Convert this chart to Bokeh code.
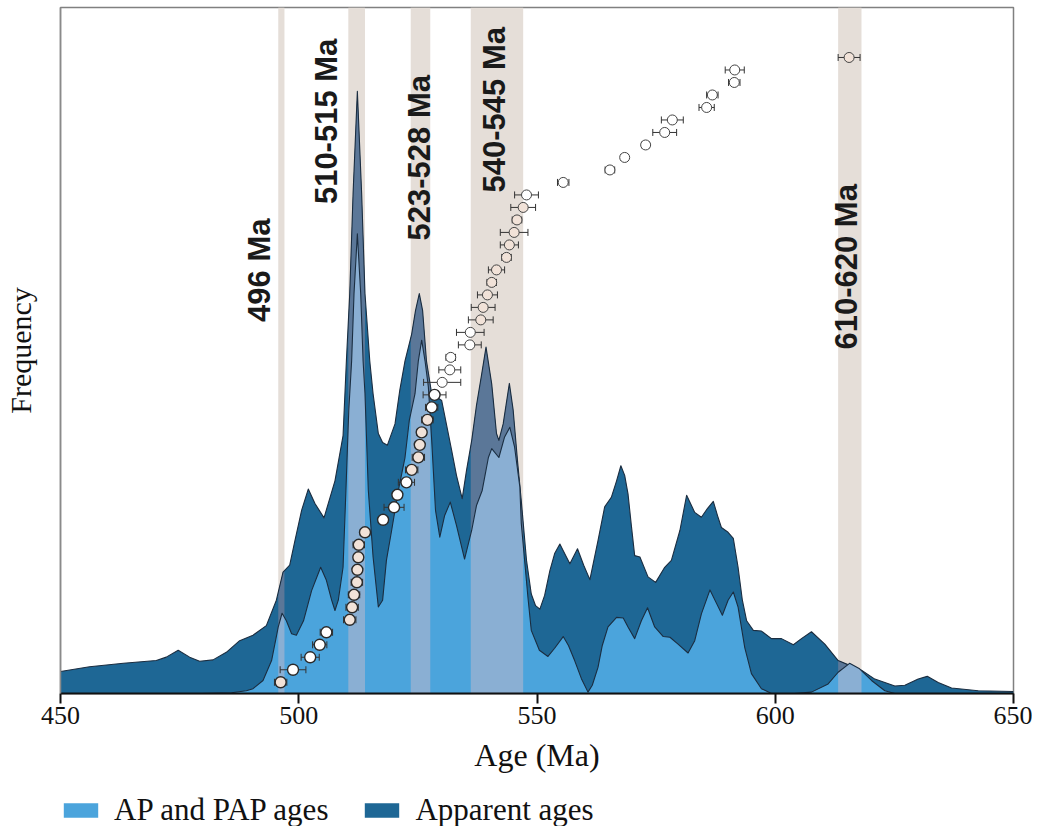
import numpy as np
from bokeh.plotting import figure
from bokeh.layouts import column
from bokeh.models import Range1d, FixedTicker, Legend, LegendItem, ColumnDataSource
from bokeh.core.properties import value
from bokeh.embed import file_html
from bokeh.resources import INLINE

# ---------------- data ----------------
dark_age = [450.0, 456.1, 463.2, 470.1, 472.2, 474.7, 477.1, 479.2, 482.0, 484.8,
            487.6, 490.4, 493.2, 495.3, 496.7, 498.1, 499.2, 500.6, 502.0, 503.4,
            505.3, 507.6, 509.3, 510.0, 510.7, 511.4, 512.3, 513.2, 513.9, 514.9,
            515.6, 516.7, 517.6, 518.6, 520.2, 521.2, 522.3, 523.7, 524.5, 525.3,
            526.0, 526.8, 527.9, 530.0, 532.1, 533.1, 534.3, 535.2, 536.3, 537.3,
            538.4, 539.3, 540.5, 541.5, 542.0, 542.9, 544.2, 545.0, 545.9, 546.7,
            547.8, 548.8, 549.7, 550.6, 551.6, 552.7, 553.7, 554.8, 555.8, 556.9,
            558.5, 559.8, 561.1, 562.8, 564.2, 565.6, 566.7, 567.6, 568.4, 569.1,
            569.8, 570.5, 571.6, 573.3, 574.9, 576.8, 578.2, 580.0, 581.4, 583.1,
            584.5, 585.8, 587.0, 587.9, 588.7, 590.1, 591.2, 592.2, 593.1, 594.0,
            595.4, 597.1, 599.2, 601.3, 603.8, 605.5, 607.6, 610.4, 613.2, 615.6,
            618.1, 620.9, 625.1, 627.2, 630.0, 631.9, 634.2, 637.0, 642.6, 650.0]
dark_freq = [3.2, 3.9, 4.4, 4.8, 5.3, 6.3, 5.3, 4.7, 4.9, 6.0,
             7.7, 8.5, 9.9, 13.6, 17.7, 18.7, 22.3, 26.7, 29.8, 27.7,
             25.6, 31.0, 37.6, 48.5, 58.3, 72.9, 87.8, 72.9, 58.3, 48.5,
             43.7, 37.9, 36.6, 36.2, 39.3, 44.2, 48.5, 52.4, 55.8, 58.3,
             55.8, 48.5, 43.7, 42.7, 35.4, 31.8, 28.4, 32.5, 36.9, 42.0,
             46.6, 50.5, 45.1, 37.9, 36.9, 39.3, 45.2, 41.3, 34.0, 28.1,
             19.4, 14.5, 12.8, 12.3, 14.3, 17.9, 20.4, 21.8, 20.4, 18.9,
             21.1, 18.7, 16.6, 22.3, 27.2, 28.6, 31.0, 33.2, 31.8, 29.1,
             24.5, 20.1, 19.9, 17.0, 16.2, 18.4, 19.4, 23.8, 28.9, 26.4,
             25.7, 27.0, 28.0, 25.9, 24.2, 23.5, 22.6, 18.4, 13.6, 10.6,
             9.2, 9.1, 8.0, 8.0, 7.1, 8.0, 9.0, 7.2, 4.8, 4.1,
             3.4, 2.1, 1.1, 1.2, 2.1, 2.5, 1.6, 0.8, 0.4, 0.3]

light_age = [450.0, 479.6, 485.9, 489.0, 490.4, 492.5, 494.3, 495.7, 496.5, 497.4,
             498.5, 499.5, 501.0, 502.7, 504.6, 505.8, 506.9, 507.6, 508.3, 509.3,
             509.9, 510.5, 511.1, 511.6, 512.3, 513.0, 513.5, 513.9, 514.6, 515.6,
             516.7, 517.6, 518.4, 519.5, 520.9, 522.3, 523.2, 524.4, 525.1, 525.8,
             526.5, 527.2, 527.9, 528.7, 529.6, 530.6, 531.8, 533.1, 534.8, 536.3,
             537.3, 538.5, 539.8, 540.5, 542.0, 543.2, 544.3, 545.3, 546.4, 546.7,
             548.1, 548.8, 550.5, 552.3, 553.7, 555.5, 556.6, 557.9, 559.3, 560.7,
             561.6, 562.8, 563.7, 564.9, 566.7, 568.1, 569.1, 570.5, 571.9, 573.2,
             574.7, 576.5, 577.9, 579.6, 581.7, 583.1, 584.5, 586.3, 587.7, 588.9,
             590.1, 591.2, 592.2, 593.6, 595.0, 597.1, 599.2, 604.0, 607.6, 611.1,
             613.2, 615.6, 617.7, 620.2, 623.0, 625.1, 650.0]
light_freq = [0.0, 0.0, 0.1, 0.4, 0.7, 1.9, 4.8, 9.7, 11.7, 10.6,
              8.7, 8.5, 10.6, 15.0, 18.4, 16.5, 13.6, 12.1, 13.6, 18.4,
              29.6, 41.3, 48.5, 58.3, 67.0, 58.3, 48.5, 43.7, 29.6, 19.9,
              12.6, 13.6, 19.4, 23.8, 29.6, 34.4, 39.8, 43.7, 48.5, 51.5,
              48.5, 44.7, 36.9, 26.7, 22.8, 25.9, 27.9, 24.5, 19.6, 23.8,
              27.4, 29.6, 34.4, 35.7, 34.4, 37.4, 38.8, 35.9, 30.1, 24.8,
              14.0, 9.2, 6.3, 5.4, 6.6, 8.3, 7.0, 4.8, 2.2, 0.2,
              1.2, 3.8, 7.0, 9.7, 11.1, 11.0, 9.7, 8.0, 10.6, 12.5,
              9.7, 8.3, 8.2, 7.2, 5.9, 7.7, 11.6, 15.1, 13.1, 11.4,
              13.6, 14.8, 12.6, 6.7, 2.9, 0.7, 0.0, 0.0, 0.2, 1.4,
              3.1, 4.4, 3.6, 1.9, 0.4, 0.0, 0.0]

band_lo = [495.7, 510.4, 523.5, 536.1, 613.2]
band_hi = [497.0, 513.9, 527.6, 547.1, 618.1]
band_labels = ["496 Ma", "510-515 Ma", "523-528 Ma", "540-545 Ma", "610-620 Ma"]

spot_age = [496.2, 498.8, 502.4, 504.4, 505.8, 510.7, 511.2, 511.6, 512.2, 512.3,
            512.5, 512.6, 513.9, 517.7, 520.0, 520.7, 522.6, 523.7, 525.1, 525.4,
            525.8, 527.0, 527.9, 528.5, 530.1, 531.7, 531.9, 535.9, 536.0, 538.2,
            538.7, 539.6, 540.5, 541.5, 543.6, 544.2, 545.2, 545.8, 547.1, 547.8,
            555.5, 565.3, 568.4, 572.8, 576.8, 578.4, 585.6, 586.8, 591.4, 591.5,
            615.5]
spot_err = [1.3, 2.7, 1.9, 1.5, 1.3, 1.3, 1.3, 1.2, 1.2, 0.9,
            0.9, 1.2, 1.0, 1.0, 2.1, 1.0, 1.7, 1.3, 1.3, 1.0,
            1.0, 1.2, 1.3, 2.4, 3.9, 2.3, 1.0, 2.4, 2.9, 2.6,
            2.5, 2.1, 1.0, 1.7, 1.0, 1.9, 2.9, 1.0, 2.6, 2.5,
            1.2, 1.0, 0.8, 0.8, 2.5, 2.3, 1.6, 1.2, 1.2, 2.0,
            2.3]
spot_rank = [1, 2, 3, 4, 5, 6, 7, 8, 9, 10, 11, 12, 13, 14, 15, 16, 17, 18, 19, 20,
             21, 22, 23, 24, 25, 26, 27, 28, 29, 30, 31, 32, 33, 34, 35, 36, 37, 38, 39, 40,
             41, 42, 43, 44, 45, 46, 47, 48, 49, 50, 51]

x_ticks = [450, 500, 550, 600, 650]
legend_labels = ["AP and PAP ages", "Apparent ages"]

# label anchor positions (x in Ma, centre y in frequency units)
label_x = [491.8, 505.8, 525.4, 541.1, 615.0]
label_y = [61.7, 83.4, 78.1, 85.1, 62.2]

# ---------------- styles ----------------
DARK = "#1e6795"
LIGHT = "#4ba4dc"
BAND = "#e5ded8"
BAND_DARK = "#5b7798"
BAND_LIGHT = "#8aafd3"
EDGE = "#1b2d40"
SERIF = "Liberation Serif"

p = figure(frame_width=953, frame_height=686, x_range=Range1d(450, 650), y_range=Range1d(0, 100),
           output_backend="svg", toolbar_location=None,
           min_border_left=59, min_border_right=19, min_border_top=7, min_border_bottom=93)
p.extra_y_ranges = {"rank": Range1d(0.1, 55.0)}
p.grid.visible = False
p.outline_line_color = "#808080"
p.outline_line_width = 1.5
p.background_fill_color = "white"
p.border_fill_color = "white"

# background bands
p.quad(left=band_lo, right=band_hi, bottom=0, top=100, fill_color=BAND, line_color=None)


def clip(xs, ys, lo, hi):
    xs = np.asarray(xs, dtype=float)
    ys = np.asarray(ys, dtype=float)
    m = (xs > lo) & (xs < hi)
    cx = np.concatenate([[lo], xs[m], [hi]])
    cy = np.concatenate([[np.interp(lo, xs, ys)], ys[m], [np.interp(hi, xs, ys)]])
    return cx, cy


p.varea(x=dark_age, y1=0, y2=dark_freq, fill_color=DARK)
for lo, hi in zip(band_lo, band_hi):
    cx, cy = clip(dark_age, dark_freq, lo, hi)
    p.varea(x=cx, y1=0, y2=cy, fill_color=BAND_DARK)
p.line(dark_age, dark_freq, line_color=EDGE, line_width=1.1, line_join="round")

p.varea(x=light_age, y1=0, y2=light_freq, fill_color=LIGHT)
for lo, hi in zip(band_lo, band_hi):
    cx, cy = clip(light_age, light_freq, lo, hi)
    p.varea(x=cx, y1=0, y2=cy, fill_color=BAND_LIGHT)
p.line(light_age, light_freq, line_color=EDGE, line_width=1.1, line_join="round")

# rank-ordered spot ages with error bars
sa = np.asarray(spot_age)
se = np.asarray(spot_err)
inband = np.zeros(len(sa), dtype=bool)
for lo, hi in zip(band_lo, band_hi):
    inband |= (sa >= lo) & (sa <= hi)
fills = ["#f1e2d8" if b else "white" for b in inband]
lower = [r <= 24 for r in spot_rank]
src = ColumnDataSource(dict(
    age=spot_age, rank=spot_rank, lo=list(sa - se), hi=list(sa + se), fill=fills,
    size=[11 if l else 10 for l in lower],
    lw=[1.4 if l else 1.0 for l in lower],
    lc=["#2a2a2a" if l else "#444444" for l in lower],
))
p.segment(x0="lo", y0="rank", x1="hi", y1="rank", source=src, y_range_name="rank",
          line_color="#333333", line_width=1)
p.scatter(x="lo", y="rank", source=src, y_range_name="rank", marker="dash",
          angle=np.pi / 2, size=7, line_color="#333333", line_width=1)
p.scatter(x="hi", y="rank", source=src, y_range_name="rank", marker="dash",
          angle=np.pi / 2, size=7, line_color="#333333", line_width=1)
p.scatter(x="age", y="rank", source=src, y_range_name="rank", marker="circle",
          size="size", fill_color="fill", line_color="lc", line_width="lw")

# band labels
p.text(x=label_x, y=label_y, text=band_labels, angle=np.pi / 2,
       text_font=value("Liberation Sans"), text_font_style="bold",
       text_font_size="31px", text_color="#1a1a1a",
       text_align="center", text_baseline="alphabetic")

# axes
xa = p.xaxis[0]
xa.ticker = FixedTicker(ticks=x_ticks)
xa.minor_tick_line_color = None
xa.major_tick_out = 10
xa.major_tick_in = 0
xa.major_tick_line_width = 2
xa.major_tick_line_color = "#111111"
xa.axis_line_width = 2
xa.axis_line_color = "#111111"
xa.major_label_text_font = SERIF
xa.major_label_text_font_size = "26px"
xa.major_label_text_color = "#111111"
xa.major_label_standoff = 3
xa.axis_label = "Age (Ma)"
xa.axis_label_text_font = SERIF
xa.axis_label_text_font_size = "32px"
xa.axis_label_text_font_style = "normal"
xa.axis_label_text_color = "#111111"
xa.axis_label_standoff = 10

ya = p.yaxis[0]
ya.ticker = FixedTicker(ticks=[])
ya.minor_tick_line_color = None
ya.major_tick_line_color = None
ya.axis_line_color = "#8a8a8a"
ya.axis_line_width = 1.5
ya.axis_label = "Frequency"
ya.axis_label_text_font = SERIF
ya.axis_label_text_font_size = "30px"
ya.axis_label_text_font_style = "normal"
ya.axis_label_text_color = "#111111"
ya.axis_label_standoff = 24

# legend strip below the chart (same two series, kept out of view, carry the swatches)
q = figure(width=1031, height=40, x_range=Range1d(0, 1), y_range=Range1d(0, 1),
           output_backend="svg", toolbar_location=None,
           x_axis_location=None, y_axis_location=None, min_border=0)
q.grid.visible = False
q.outline_line_color = None
q_light = q.varea(x=light_age, y1=0, y2=light_freq, fill_color=LIGHT)
q_dark = q.varea(x=dark_age, y1=0, y2=dark_freq, fill_color=DARK)
legend = Legend(items=[LegendItem(label=legend_labels[0], renderers=[q_light]),
                       LegendItem(label=legend_labels[1], renderers=[q_dark])],
                orientation="horizontal", location=(-5, -6),
                glyph_width=43, glyph_height=18, label_standoff=12, spacing=32,
                padding=4, margin=0, border_line_alpha=0, background_fill_alpha=0,
                label_text_font=SERIF, label_text_font_size="31px",
                label_text_color="#111111")
q.add_layout(legend, "center")

layout = column(p, q, spacing=0)
open("out.html", "w").write(file_html(layout, INLINE))
